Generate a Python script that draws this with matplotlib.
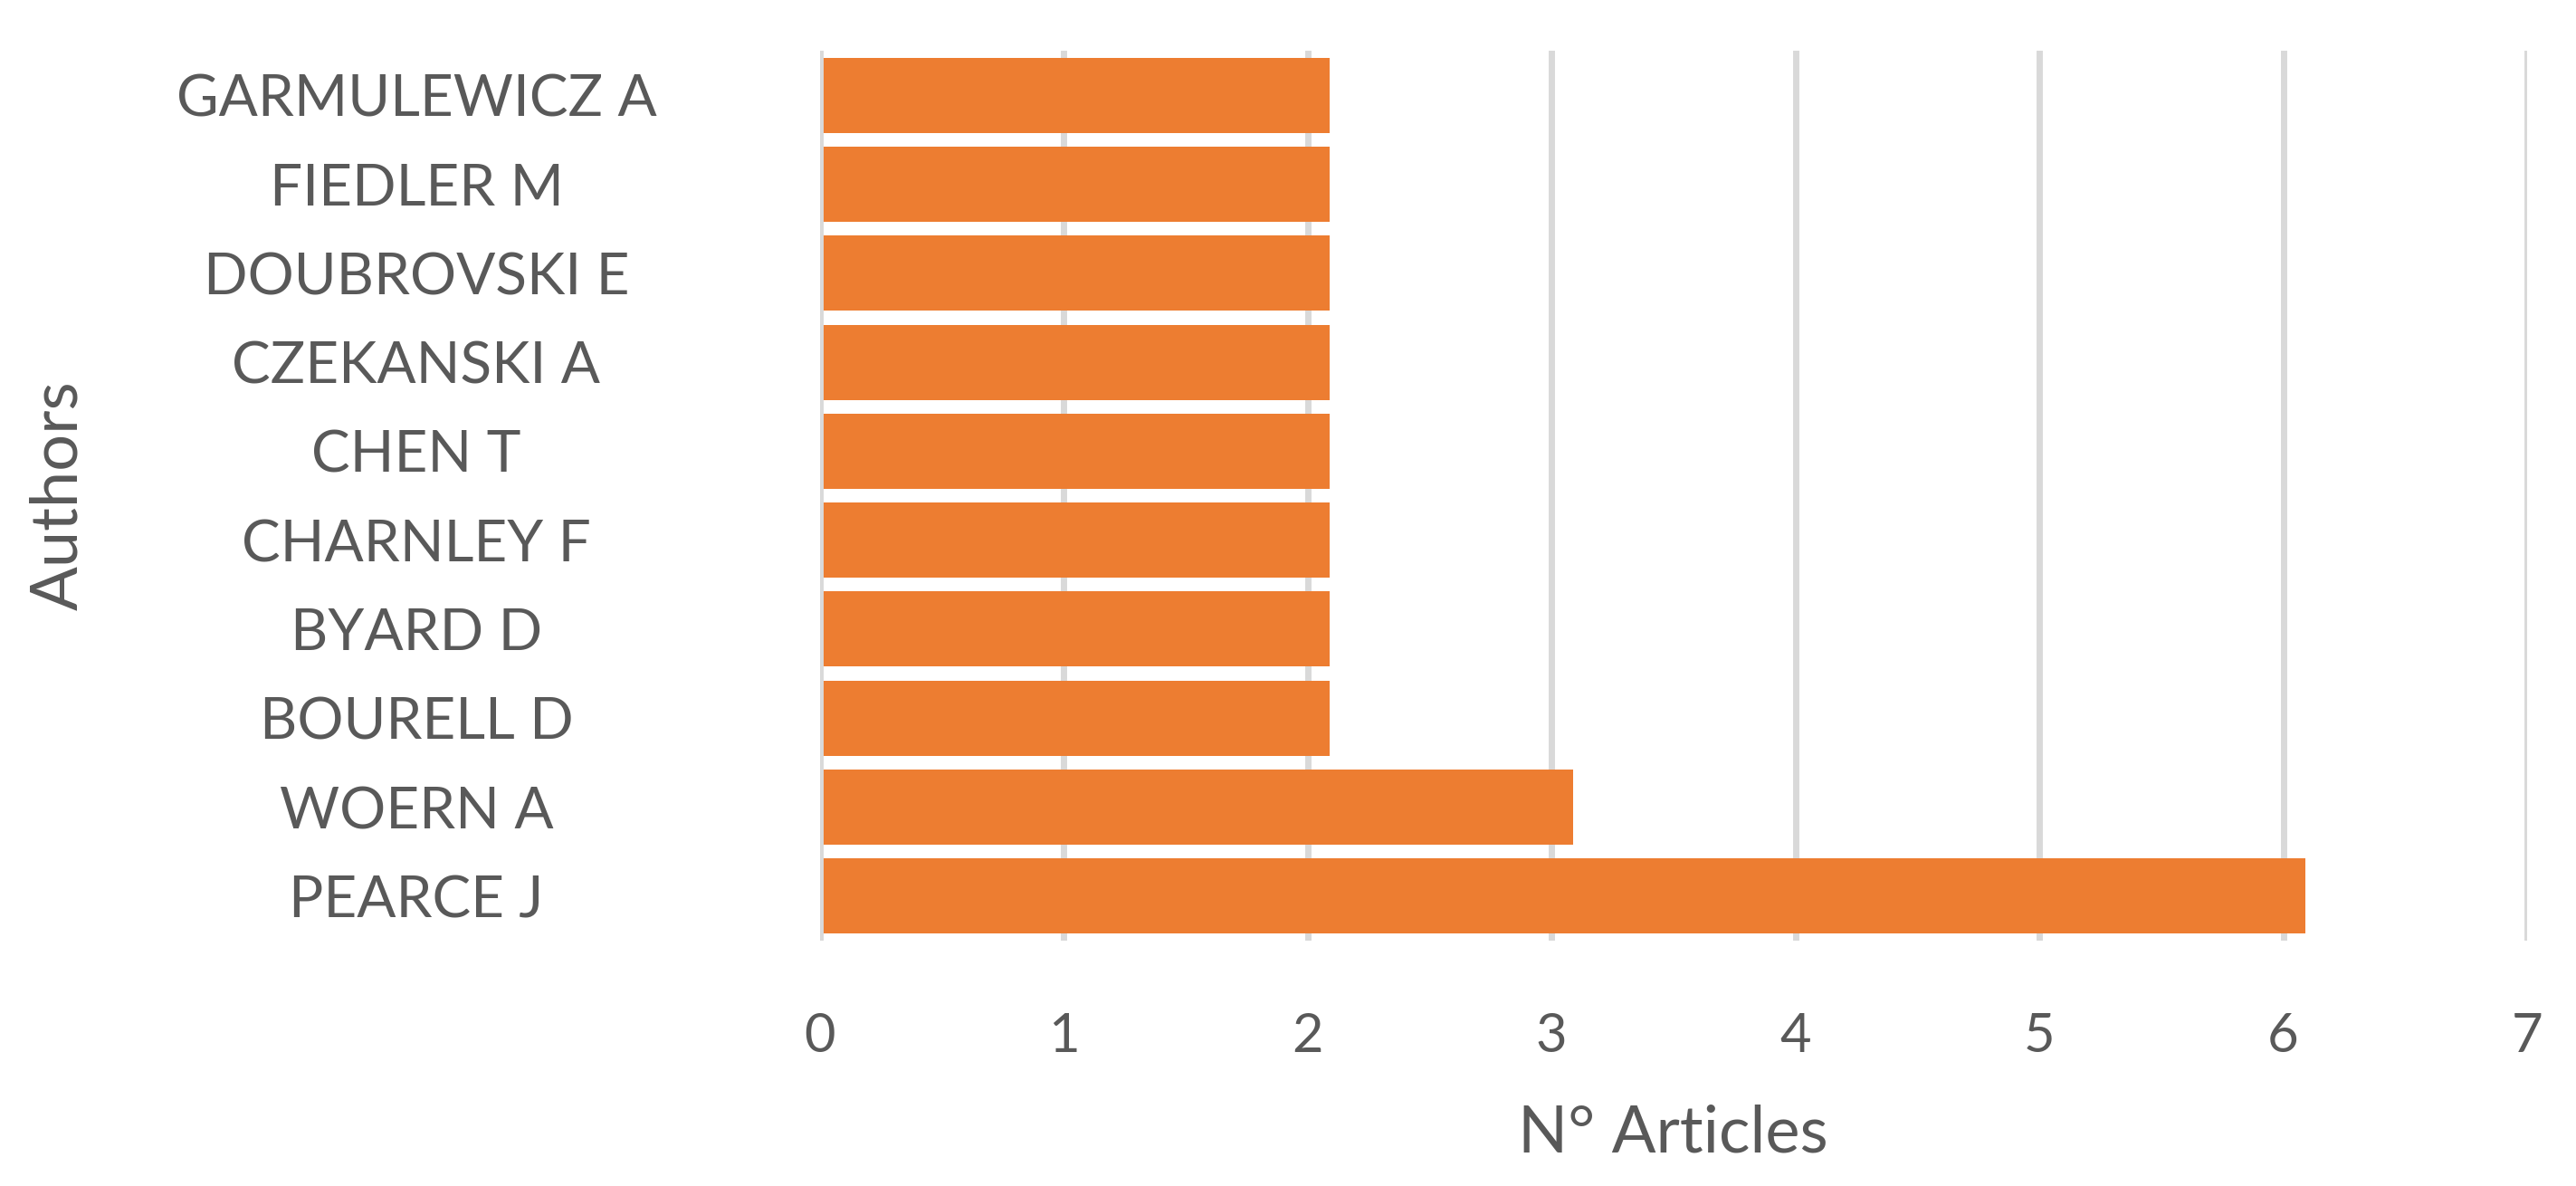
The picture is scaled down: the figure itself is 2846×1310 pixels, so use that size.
import matplotlib
matplotlib.use("Agg")
import matplotlib.pyplot as plt

authors = ["PEARCE J", "WOERN A", "BOURELL D", "BYARD D", "CHARNLEY F",
           "CHEN T", "CZEKANSKI A", "DOUBROVSKI E", "FIEDLER M", "GARMULEWICZ A"]
articles = [6.09, 3.09, 2.09, 2.09, 2.09, 2.09, 2.09, 2.09, 2.09, 2.09]
xticks = [0, 1, 2, 3, 4, 5, 6, 7]

W, H, DPI = 2846, 1310, 100
fig = plt.figure(figsize=(W / DPI, H / DPI), dpi=DPI)
fig.patch.set_facecolor("white")

left, right = 905.5 / W, 2792 / W
top, bottom = 1 - 56 / H, 1 - 1039 / H
ax = fig.add_axes([left, bottom, right - left, top - bottom])

text_color = "#595959"
grid_color = "#D9D9D9"
bar_color = "#ED7D31"
font = "Lato"

y = list(range(len(authors)))
ax.barh(y, articles, height=0.845, color=bar_color, zorder=2)
ax.set_ylim(-0.5, len(authors) - 0.5)
ax.set_xlim(0, 7)

ax.set_xticks(xticks)
ax.set_xticklabels([str(t) for t in xticks], fontsize=43, color=text_color, family=font)
for t in xticks[1:]:
    ax.axvline(t, color=grid_color, lw=5, zorder=1)
ax.axvline(0, color=grid_color, lw=5, zorder=3)

ax.set_yticks(y)
ax.set_yticklabels(authors, fontsize=46, color=text_color, family=font, ha="center")
ax.tick_params(axis="y", length=0, pad=(905.5 - 460) * 0.72)
ax.tick_params(axis="x", length=0, pad=57)

for s in ax.spines.values():
    s.set_visible(False)

ax.set_xlabel("N° Articles", fontsize=52, color=text_color, family=font)
ax.xaxis.set_label_coords(0.5, (1039 - 1252) / 983)
ax.xaxis.label.set_va("center")
ax.set_ylabel("Authors", fontsize=52, color=text_color, family=font)
ax.yaxis.set_label_coords((65 - 905.5) / (2792 - 905.5), 0.5)
ax.yaxis.label.set_va("center")

fig.savefig("out.png", dpi=DPI, facecolor="white")
